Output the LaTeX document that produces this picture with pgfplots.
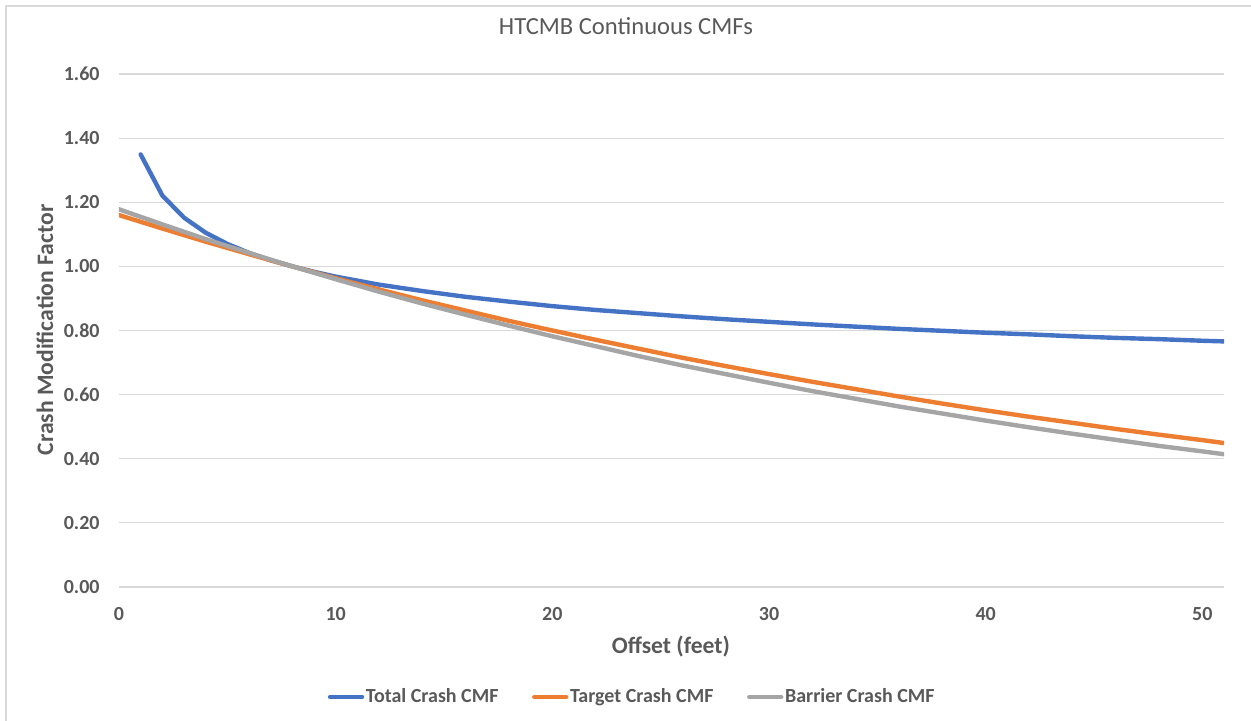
\documentclass[border=0pt]{standalone}
\usepackage{fontspec}
\setmainfont{Carlito}
\usepackage{pgfplots}
\pgfplotsset{compat=1.18}
\definecolor{txt}{HTML}{595959}
\definecolor{gridc}{HTML}{D9D9D9}
\definecolor{cblue}{HTML}{4472C4}
\definecolor{corange}{HTML}{ED7D31}
\definecolor{cgray}{HTML}{A5A5A5}
\begin{document}
\begin{tikzpicture}
\begin{axis}[
  scale only axis,
  width=552.5pt, height=256.5pt,
  xmin=0, xmax=51, ymin=0, ymax=1.6,
  xtick={0,10,20,30,40,50},
  ytick={0,0.2,0.4,0.6,0.8,1.0,1.2,1.4,1.6},
  axis line style={draw=none},
  major tick length=0pt,
  xmajorgrids=false, ymajorgrids=true,
  major grid style={draw=gridc, line width=0.6pt},
  /pgf/number format/assume math mode=true,
  yticklabel style={/pgf/number format/.cd, fixed, fixed zerofill, precision=2, /tikz/.cd,
     font=\bfseries\fontsize{10}{12}\selectfont, text=txt, anchor=east, inner sep=0pt, xshift=-9.5pt},
  xticklabel style={font=\bfseries\fontsize{10}{12}\selectfont, text=txt, anchor=center, inner sep=0pt, yshift=-13.5pt},
  title={HTCMB Continuous CMFs},
  title style={at={(axis description cs:0.4588,1.0702)}, anchor=center, font=\fontsize{12.3}{14}\selectfont, text=txt},
  xlabel={Offset (feet)},
  xlabel style={at={(axis description cs:0.4995,-0.117)}, anchor=center, font=\bfseries\fontsize{11.8}{14}\selectfont, text=txt},
  ylabel={Crash Modification Factor},
  ylabel style={at={(axis description cs:-0.067,0.501)}, anchor=center, rotate=0, font=\bfseries\fontsize{11.8}{14}\selectfont, text=txt},
  legend columns=3,
  legend style={at={(axis description cs:0.4643,-0.2144)}, anchor=center, draw=none, fill=none,
     font=\bfseries\fontsize{10}{12}\selectfont, text=txt,
     nodes={inner sep=0.8pt},
     /tikz/every even column/.append style={column sep=16pt}},
  legend image code/.code={\draw[#1] (0pt,0pt) -- (16pt,0pt);},
  every axis plot/.append style={line width=2.2pt, line join=round, line cap=round},
]
\addplot[cblue] coordinates {
(1,1.349)(2,1.221)(3,1.152)(4,1.105)(5,1.070)(6,1.042)(7,1.019)(8,1.000)(9,0.983)(10,0.968)
(12,0.943)(14,0.923)(16,0.905)(18,0.890)(20,0.876)(22,0.864)(24,0.854)(26,0.844)(28,0.835)
(30,0.827)(32,0.819)(34,0.812)(36,0.805)(38,0.799)(40,0.793)(42,0.788)(44,0.782)(46,0.777)
(48,0.773)(50,0.768)(51,0.766)};
\addlegendentry{Total Crash CMF}
\addplot[corange] coordinates {
(0,1.160)(2,1.118)(4,1.077)(6,1.038)(8,1.000)(10,0.963)(12,0.928)(14,0.894)(16,0.862)
(18,0.830)(20,0.800)(22,0.771)(24,0.743)(26,0.715)(28,0.689)(30,0.664)(32,0.640)(34,0.617)
(36,0.594)(38,0.572)(40,0.551)(42,0.531)(44,0.512)(46,0.493)(48,0.475)(50,0.458)(51,0.449)};
\addlegendentry{Target Crash CMF}
\addplot[cgray] coordinates {
(0,1.178)(2,1.131)(4,1.085)(6,1.042)(8,1.000)(10,0.960)(12,0.921)(14,0.884)(16,0.849)
(18,0.815)(20,0.782)(22,0.751)(24,0.720)(26,0.691)(28,0.664)(30,0.637)(32,0.611)(34,0.587)
(36,0.563)(38,0.541)(40,0.519)(42,0.498)(44,0.478)(46,0.459)(48,0.440)(50,0.423)(51,0.414)};
\addlegendentry{Barrier Crash CMF}
\end{axis}
\pgfresetboundingbox
\useasboundingbox (-59.5pt,-67pt) rectangle (566pt,293.5pt);
\draw[gridc, line width=0.6pt] (-56.5pt,-67pt) -- (-56.5pt,290.5pt) -- (566pt,290.5pt);
\end{tikzpicture}
\end{document}
